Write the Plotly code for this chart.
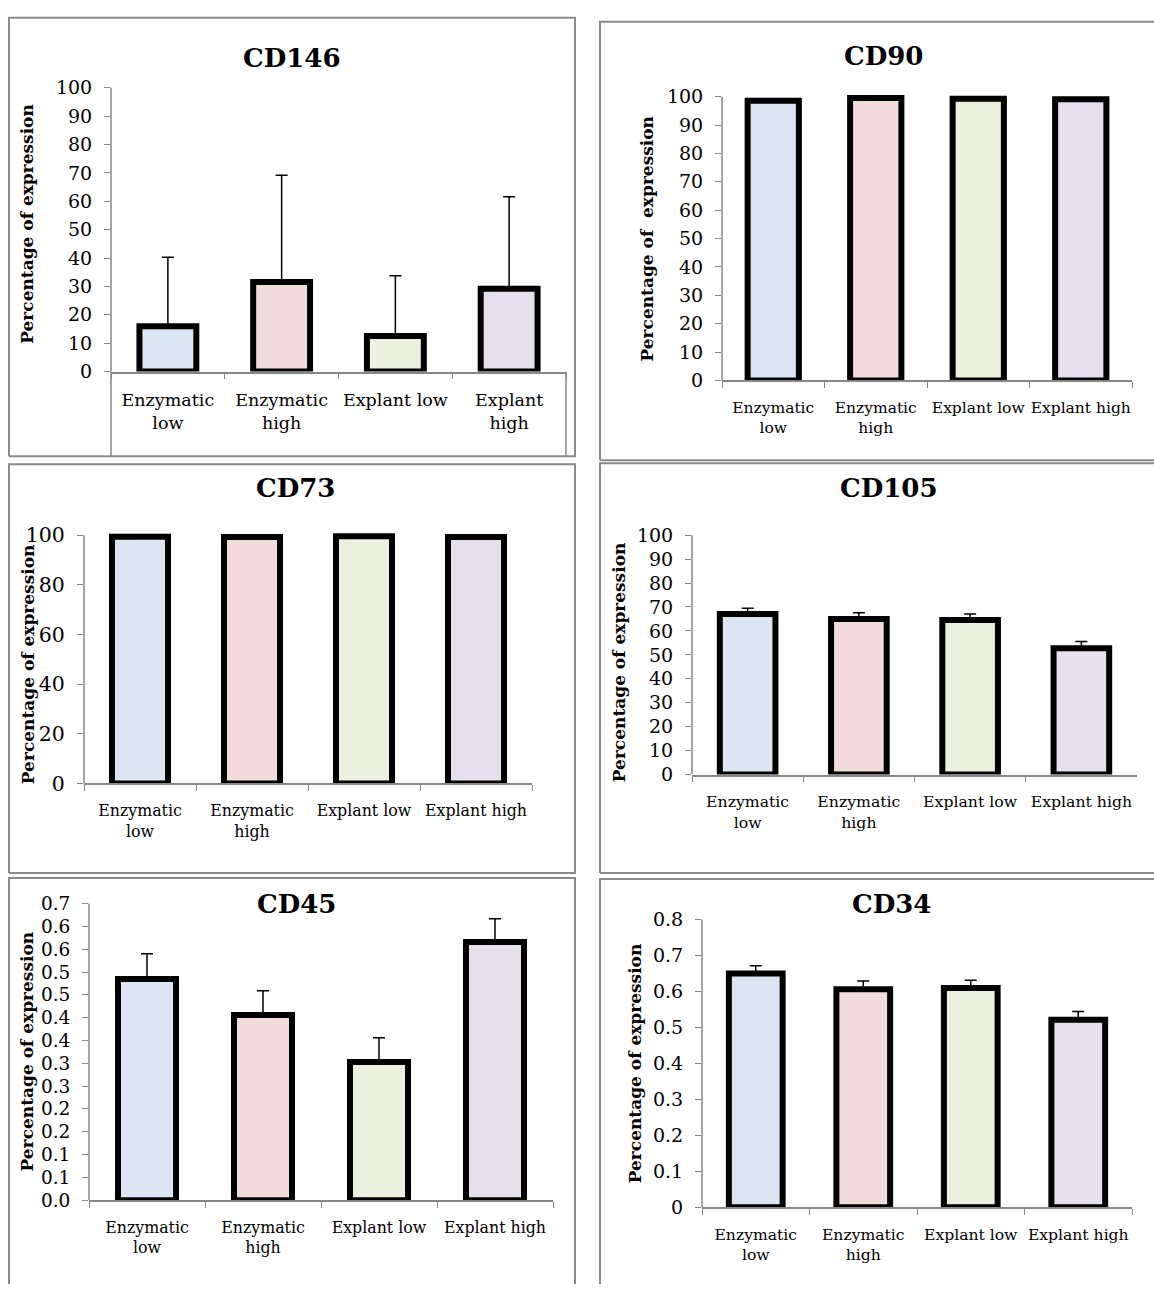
import plotly.graph_objects as go

# ---------------- data ----------------
categories = ["Enzymatic low", "Enzymatic high", "Explant low", "Explant high"]
cat_labels = ["Enzymatic<br>low", "Enzymatic<br>high", "Explant low", "Explant high"]
cd146_labels = ["Enzymatic<br>low", "Enzymatic<br>high", "Explant low", "Explant<br>high"]

cd146_mean = [16.0, 31.6, 12.5, 29.2]
cd146_err = [24.3, 37.6, 21.3, 32.4]

cd90_mean = [98.6, 99.5, 99.3, 99.1]
cd90_err = [0.3, 0.2, 0.2, 0.3]

cd73_mean = [99.4, 99.3, 99.6, 99.3]
cd73_err = [0.3, 0.2, 0.1, 0.3]

cd105_mean = [67.1, 65.0, 64.6, 52.8]
cd105_err = [2.4, 2.6, 2.5, 2.8]

cd45_mean = [0.485, 0.406, 0.303, 0.566]
cd45_err = [0.055, 0.053, 0.053, 0.051]

cd34_mean = [0.650, 0.606, 0.609, 0.521]
cd34_err = [0.021, 0.023, 0.022, 0.023]

tick100 = [0, 10, 20, 30, 40, 50, 60, 70, 80, 90, 100]
tick73 = [0, 20, 40, 60, 80, 100]
tick45 = [0.0, 0.05, 0.10, 0.15, 0.20, 0.25, 0.30, 0.35, 0.40, 0.45, 0.50, 0.55, 0.60, 0.65]
tick45_text = ["0.0", "0.1", "0.1", "0.2", "0.2", "0.3", "0.3", "0.4", "0.4", "0.5", "0.5", "0.6", "0.6", "0.7"]
tick34 = [0, 0.1, 0.2, 0.3, 0.4, 0.5, 0.6, 0.7, 0.8]
tick34_text = ["0", "0.1", "0.2", "0.3", "0.4", "0.5", "0.6", "0.7", "0.8"]

bar_colors = ["#dce6f2", "#f2dcdb", "#ebf1de", "#e5e0ec"]

# ---------------- layout of panels (pixel geometry) ----------------
W, H = 1154, 1296
FONT = "DejaVu Serif"
AXIS_GRAY = "#868686"
BORDER_GRAY = "#8a8a8a"

panels = [
    dict(title="CD146", mean=cd146_mean, err=cd146_err, sym=False, labels=cd146_labels,
         tickvals=tick100, ticktext=[str(v) for v in tick100], ymax=100,
         ax=(111, 566), y0=370, ytop=82, tickfont=19, catfont=17.5,
         title_xy=(292, 52), ytitle_xy=(27, 220), ytitle="Percentage of expression"),
    dict(title="CD90", mean=cd90_mean, err=cd90_err, sym=True, labels=cat_labels,
         tickvals=tick100, ticktext=[str(v) for v in tick100], ymax=100,
         ax=(722, 1132), y0=379, ytop=91, tickfont=19, catfont=15.5,
         title_xy=(883, 50), ytitle_xy=(647, 235), ytitle="Percentage of\u00a0 expression"),
    dict(title="CD73", mean=cd73_mean, err=cd73_err, sym=True, labels=cat_labels,
         tickvals=tick73, ticktext=[str(v) for v in tick73], ymax=100,
         ax=(84, 532), y0=788, ytop=536, tickfont=20.5, catfont=15.8,
         title_xy=(295, 488), ytitle_xy=(28, 667), ytitle="Percentage of expression"),
    dict(title="CD105", mean=cd105_mean, err=cd105_err, sym=False, labels=cat_labels,
         tickvals=tick100, ticktext=[str(v) for v in tick100], ymax=100,
         ax=(692, 1137), y0=779, ytop=536, tickfont=19, catfont=15.7,
         title_xy=(889, 488), ytitle_xy=(619, 665), ytitle="Percentage of expression"),
    dict(title="CD45", mean=cd45_mean, err=cd45_err, sym=False, labels=cat_labels,
         tickvals=tick45, ticktext=tick45_text, ymax=0.65,
         ax=(89, 553), y0=1211, ytop=910, tickfont=18.5, catfont=15.8,
         title_xy=(296, 910), ytitle_xy=(27, 1060), ytitle="Percentage of expression"),
    dict(title="CD34", mean=cd34_mean, err=cd34_err, sym=False, labels=cat_labels,
         tickvals=tick34, ticktext=tick34_text, ymax=0.8,
         ax=(702, 1132), y0=1218, ytop=926, tickfont=19, catfont=15.6,
         title_xy=(891, 910), ytitle_xy=(635, 1072), ytitle="Percentage of expression"),
]


def px_x(x):
    return x / W


def px_y(y):
    return 1 - y / H


fig = go.Figure()
shapes = []
annotations = []
PAD = 0.018

for i, p in enumerate(panels):
    n = i + 1
    xa = "x" if n == 1 else f"x{n}"
    ya = "y" if n == 1 else f"y{n}"
    xkey = "xaxis" if n == 1 else f"xaxis{n}"
    ykey = "yaxis" if n == 1 else f"yaxis{n}"

    err_kw = dict(type="data", array=p["err"], visible=True, color="black",
                  thickness=1.5, width=6)
    if not p["sym"]:
        err_kw["symmetric"] = False
        err_kw["arrayminus"] = [0] * len(p["err"])

    fig.add_trace(go.Bar(
        x=categories, y=p["mean"], xaxis=xa, yaxis=ya,
        marker=dict(color=bar_colors, line=dict(color="black", width=6)),
        error_y=err_kw, showlegend=False,
    ))

    rtop = p["ymax"] * (1 + PAD)
    top_px = p["y0"] - (p["y0"] - p["ytop"]) * (1 + PAD)

    fig.update_layout(**{
        xkey: dict(domain=[px_x(p["ax"][0]), px_x(p["ax"][1])], anchor=ya,
                   type="category", categoryorder="array", categoryarray=categories,
                   tickvals=categories, ticktext=p["labels"], tickangle=0,
                   showline=True, linecolor=AXIS_GRAY, linewidth=1.5,
                   ticks="outside", tickson="boundaries", ticklen=6,
                   tickcolor=AXIS_GRAY, tickwidth=1.3, ticklabelstandoff=12,
                   tickfont=dict(family=FONT, size=p["catfont"], color="black"),
                   showgrid=False, zeroline=False, fixedrange=True),
        ykey: dict(domain=[px_y(p["y0"]), px_y(top_px)], anchor=xa,
                   range=[0, rtop], tickvals=p["tickvals"], ticktext=p["ticktext"],
                   showline=False, ticks="outside", ticklen=6,
                   tickcolor=AXIS_GRAY, tickwidth=1.3, ticklabelstandoff=8,
                   tickfont=dict(family=FONT, size=p["tickfont"], color="black"),
                   showgrid=False, zeroline=False, fixedrange=True),
    })

    # y-axis line (only up to the top tick)
    shapes.append(dict(type="line", xref=f"{xa} domain", yref=ya,
                       x0=0, x1=0, y0=0, y1=p["ymax"],
                       line=dict(color=AXIS_GRAY, width=1.5), layer="above"))

    annotations.append(dict(text=f"<b>{p['title']}</b>", xref="paper", yref="paper",
                            x=px_x(p["title_xy"][0]), y=px_y(p["title_xy"][1]),
                            xanchor="center", yanchor="middle", showarrow=False,
                            font=dict(family=FONT, size=26, color="black")))
    annotations.append(dict(text=f"<b>{p['ytitle']}</b>", xref="paper", yref="paper",
                            x=px_x(p["ytitle_xy"][0]), y=px_y(p["ytitle_xy"][1]),
                            xanchor="center", yanchor="middle", showarrow=False,
                            textangle=-90,
                            font=dict(family=FONT, size=17, color="black")))

# CD146 category-axis box lines
for xx in (111, 566):
    shapes.append(dict(type="line", xref="paper", yref="paper",
                       x0=px_x(xx), x1=px_x(xx), y0=px_y(370), y1=px_y(456),
                       line=dict(color=AXIS_GRAY, width=1.5)))

# panel borders (open frames: sides beyond the picture edge are not drawn)
def frame_path(pts):
    return "M " + " L ".join(f"{px_x(x):.5f},{px_y(y):.5f}" for x, y in pts)

frames = [
    [(9, 456), (9, 11), (575, 11), (575, 456), (9, 456)],
    [(600, 460), (600, 15), (1154, 15)],
    [(1154, 460), (600, 460)],
    [(9, 879), (9, 464), (575, 464), (575, 879), (9, 879)],
    [(600, 879), (600, 463), (1154, 463)],
    [(1154, 879), (600, 879)],
    [(9, 1296), (9, 884), (575, 884), (575, 1296)],
    [(600, 1296), (600, 885), (1154, 885)],
]
for pts in frames:
    shapes.append(dict(type="path", xref="paper", yref="paper", path=frame_path(pts),
                       line=dict(color=BORDER_GRAY, width=2), layer="below"))

fig.update_layout(
    width=W, height=H, margin=dict(l=0, r=0, t=0, b=0),
    paper_bgcolor="white", plot_bgcolor="white",
    bargap=0.5, shapes=shapes, annotations=annotations,
    font=dict(family=FONT, color="black"),
)

fig.write_html("out.html", config={"displayModeBar": False},
               post_script="document.body.style.margin='0';"
                           "document.body.style.overflow='hidden';")
